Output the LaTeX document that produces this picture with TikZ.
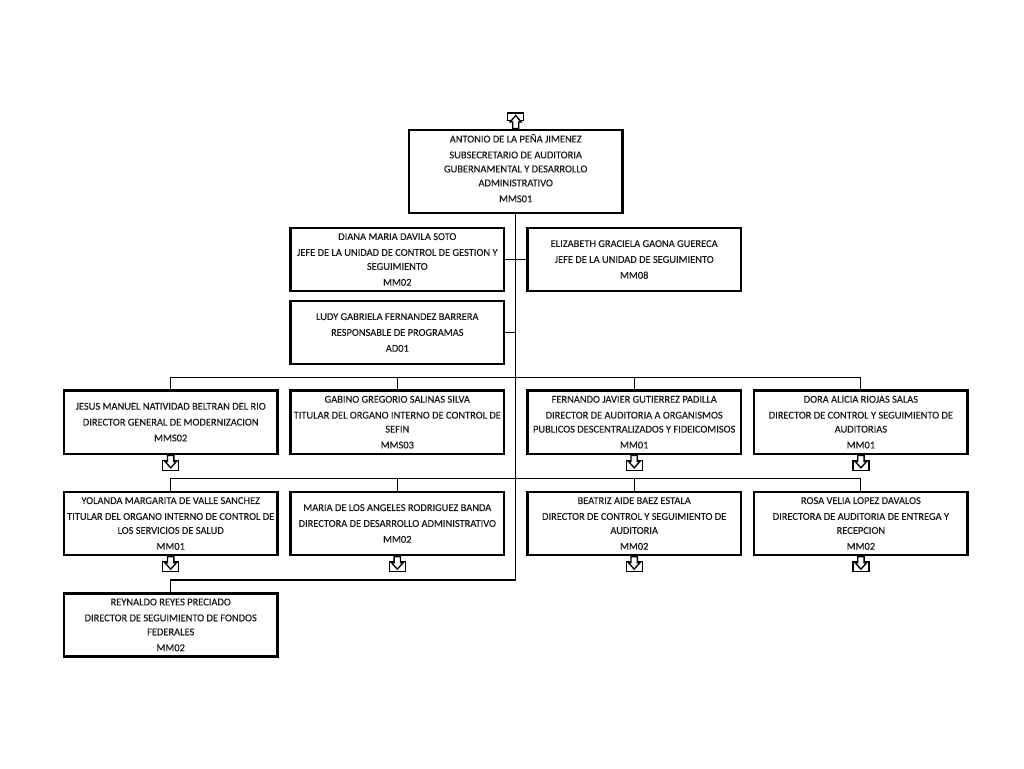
\documentclass[tikz,border=0pt]{standalone}
\usepackage{fontspec}
\setmainfont{Carlito}
\tikzset{
  orgbox/.style={draw=black,fill=white,line width=1.9pt,minimum width=160.1pt,minimum height=47.5pt,inner sep=0pt,outer sep=0pt,align=center,text=black!90,font=\fontsize{7.82}{10.5}\selectfont\addfontfeature{FakeBold=0.22},execute at begin node={\rule{0pt}{6.6pt}}},
  lowbox/.style={orgbox,execute at begin node={\rule{0pt}{6pt}}},
  ludybox/.style={orgbox,execute at begin node={\rule{0pt}{7.8pt}}},
  tallbox/.style={orgbox,minimum height=62.3pt,execute at begin node={},execute at end node={\rule[-5pt]{0pt}{0pt}}},
  conn/.style={draw=black,line width=0.8pt},
  stubmark/.style={draw=black,fill=white,line width=1pt,line join=miter}
}
\newcommand{\pg}{\\[1.4pt]}
\begin{document}
\begin{tikzpicture}[x=0.75pt,y=-0.75pt]
\useasboundingbox (0,0) rectangle (1024,768);
% boxes
\node[tallbox] (top) at (515.7,171.5) {ANTONIO DE LA PEÑA JIMENEZ\pg SUBSECRETARIO DE AUDITORIA\\GUBERNAMENTAL Y DESARROLLO\\ADMINISTRATIVO\pg MMS01};
\node[orgbox] (diana) at (397.3,259.5) {DIANA MARIA DAVILA SOTO\pg JEFE DE LA UNIDAD DE CONTROL DE GESTION Y\\SEGUIMIENTO\pg MM02};
\node[orgbox] (eliz) at (634.2,259.5) {ELIZABETH GRACIELA GAONA GUERECA\pg JEFE DE LA UNIDAD DE SEGUIMIENTO\pg MM08};
\node[ludybox] (ludy) at (397.3,332.5) {LUDY GABRIELA FERNANDEZ BARRERA\pg RESPONSABLE DE PROGRAMAS\pg AD01};
\node[orgbox] (jesus) at (170.7,422.2) {JESUS MANUEL NATIVIDAD BELTRAN DEL RIO\pg DIRECTOR GENERAL DE MODERNIZACION\pg MMS02};
\node[orgbox] (gabino) at (397.3,422.2) {GABINO GREGORIO SALINAS SILVA\pg TITULAR DEL ORGANO INTERNO DE CONTROL DE\\SEFIN\pg MMS03};
\node[orgbox] (fernando) at (634.2,422.2) {FERNANDO JAVIER GUTIERREZ PADILLA\pg DIRECTOR DE AUDITORIA A ORGANISMOS\\PUBLICOS DESCENTRALIZADOS Y FIDEICOMISOS\pg MM01};
\node[orgbox] (dora) at (860.9,422.2) {DORA ALICIA RIOJAS SALAS\pg DIRECTOR DE CONTROL Y SEGUIMIENTO DE\\AUDITORIAS\pg MM01};
\node[lowbox] (yolanda) at (170.7,523.5) {YOLANDA MARGARITA DE VALLE SANCHEZ\pg TITULAR DEL ORGANO INTERNO DE CONTROL DE\\LOS SERVICIOS DE SALUD\pg MM01};
\node[lowbox] (maria) at (397.3,523.5) {MARIA DE LOS ANGELES RODRIGUEZ BANDA\pg DIRECTORA DE DESARROLLO ADMINISTRATIVO\pg MM02};
\node[lowbox] (beatriz) at (634.2,523.5) {BEATRIZ AIDE BAEZ ESTALA\pg DIRECTOR DE CONTROL Y SEGUIMIENTO DE\\AUDITORIA\pg MM02};
\node[lowbox] (rosa) at (860.9,523.5) {ROSA VELIA LOPEZ DAVALOS\pg DIRECTORA DE AUDITORIA DE ENTREGA Y\\RECEPCION\pg MM02};
\node[orgbox] (reynaldo) at (170.7,624.9) {REYNALDO REYES PRECIADO\pg DIRECTOR DE SEGUIMIENTO DE FONDOS\\FEDERALES\pg MM02};
% bus junctions
\coordinate (bus1) at (515.7,377.5);
\coordinate (bus2) at (515.7,478.5);
\coordinate (bus3) at (515.7,580);
% connectors
\draw[conn] (top.south) -- (bus3);
\draw[conn] (diana.east) -- (eliz.west);
\draw[conn] (ludy.east) -- (ludy.east -| top.south);
\foreach \n in {jesus,gabino,fernando,dora} \draw[conn] (\n.north) |- (bus1);
\foreach \n in {yolanda,maria,beatriz,rosa} \draw[conn] (\n.north) |- (bus2);
\draw[conn] (reynaldo.north) |- (bus3);
% off-page marks
\foreach \n in {jesus,fernando,dora,yolanda,maria,beatriz,rosa}{
  \begin{scope}[shift={(\n.south)}]
    \draw[stubmark] (-8,6.5) rectangle (8,16.5);
    \draw[stubmark] (-3.2,1.5) -- (3.2,1.5) -- (3.2,7.5) -- (5.8,7.5) -- (0,14) -- (-5.8,7.5) -- (-3.2,7.5) -- cycle;
  \end{scope}
}
\begin{scope}[shift={(top.north)}]
  \draw[stubmark] (-8,-17) rectangle (8,-9.5);
  \draw[stubmark] (-3,-1.5) -- (3,-1.5) -- (3,-8) -- (5.5,-8) -- (0,-14.5) -- (-5.5,-8) -- (-3,-8) -- cycle;
\end{scope}
\end{tikzpicture}
\end{document}
